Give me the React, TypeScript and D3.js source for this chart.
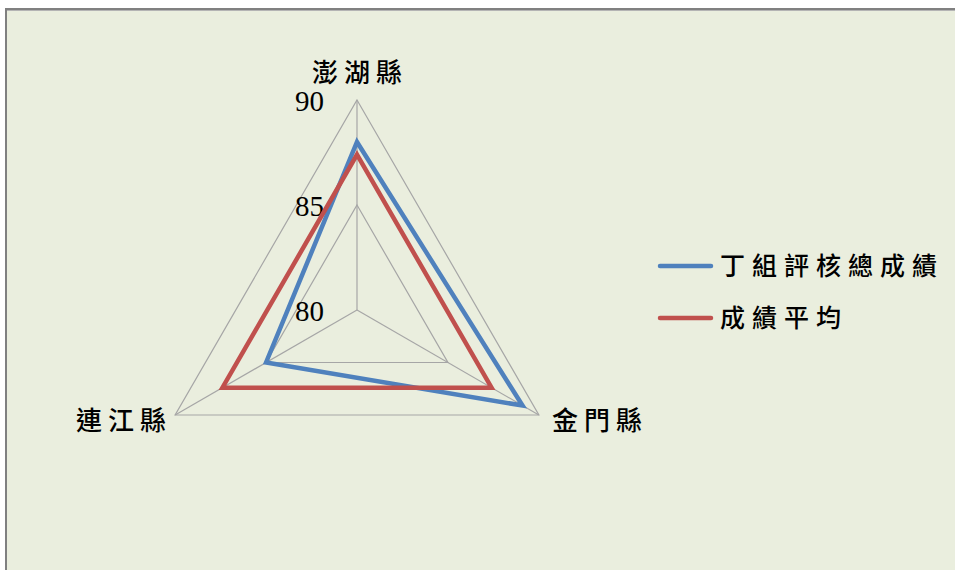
import React from "react";
import * as d3 from "d3";

const categories = ["澎湖縣", "金門縣", "連江縣"];
const seriesNames = ["丁組評核總成績", "成績平均"];
const groupScores = [88.0, 89.1, 85.0];
const averageScores = [87.4, 87.4, 87.4];
const tickValues = [80, 85, 90];
const colors = ["#4F81BD", "#C0504D"];

const W = 955;
const H = 570;
const cx = 357;
const cy = 310;
const R = 210;

export default function App() {
  const r = d3.scaleLinear().domain([80, 90]).range([0, R]);
  const angle = d3
    .scaleLinear()
    .domain([0, categories.length])
    .range([-Math.PI / 2, (3 * Math.PI) / 2]);
  const pt = (i: number, v: number): [number, number] => [
    cx + r(v) * Math.cos(angle(i)),
    cy + r(v) * Math.sin(angle(i)),
  ];
  const closed = d3.line<[number, number]>().curve(d3.curveLinearClosed);

  const series = [groupScores, averageScores];

  const labelPos = [
    { x: 360, y: 82, anchor: "middle" },
    { x: 552, y: 430, anchor: "start" },
    { x: 172, y: 430, anchor: "end" },
  ];

  const cjk = "'Noto Sans CJK TC', 'Noto Sans CJK SC', sans-serif";

  return (
    <svg
      width={W}
      height={H}
      style={{ position: "absolute", left: 0, top: 0, display: "block" }}
    >
      <rect x={0} y={0} width={W} height={H} fill="#ffffff" />
      <rect x={6} y={9} width={W + 20} height={H + 20} fill="#EAEEDE" stroke="#808080" strokeWidth={2} />
      <line x1={7} x2={W} y1={10.5} y2={10.5} stroke="#B4B4B4" strokeWidth={1} />
      {tickValues
        .filter((t) => t > 80)
        .map((t) => (
          <path
            key={t}
            d={closed(categories.map((_, i) => pt(i, t))) || ""}
            fill="none"
            stroke="#A6A6A6"
            strokeWidth={1.2}
          />
        ))}
      {categories.map((_, i) => {
        const [x, y] = pt(i, 90);
        return <line key={i} x1={cx} y1={cy} x2={x} y2={y} stroke="#A6A6A6" strokeWidth={1.2} />;
      })}
      {tickValues.map((t) => (
        <text
          key={t}
          x={324}
          y={cy - r(t) + 11}
          textAnchor="end"
          fontFamily="'Liberation Serif', 'Times New Roman', serif"
          fontSize={29}
          fill="#000"
        >
          {t}
        </text>
      ))}
      {series.map((vals, s) => (
        <path
          key={s}
          d={closed(vals.map((v, i) => pt(i, v))) || ""}
          fill="none"
          stroke={colors[s]}
          strokeWidth={4.5}
          strokeLinejoin="miter"
        />
      ))}
      {categories.map((c, i) => (
        <text
          key={c}
          x={labelPos[i].x}
          y={labelPos[i].y}
          textAnchor={labelPos[i].anchor as any}
          fontFamily={cjk}
          fontWeight={500}
          fontSize={26}
          letterSpacing={6}
          fill="#000"
        >
          {c}
        </text>
      ))}
      {seriesNames.map((n, s) => {
        const y = 266 + s * 52;
        return (
          <g key={n}>
            <line x1={660} x2={711} y1={y} y2={y} stroke={colors[s]} strokeWidth={4.5} strokeLinecap="round" />
            <text
              x={720}
              y={y + 9}
              fontFamily={cjk}
              fontWeight={500}
              fontSize={25}
              letterSpacing={7}
              fill="#000"
            >
              {n}
            </text>
          </g>
        );
      })}
    </svg>
  );
}
